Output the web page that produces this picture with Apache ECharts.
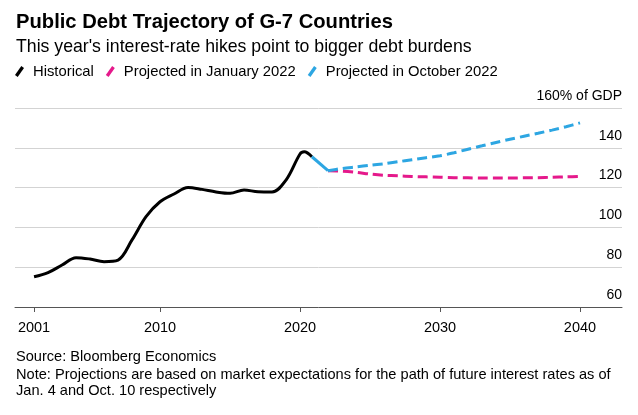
<!DOCTYPE html>
<html><head><meta charset="utf-8">
<script src="https://cdn.jsdelivr.net/npm/echarts@6/dist/echarts.min.js"></script>
<style>html,body{margin:0;padding:0;background:#fff}#c{width:638px;height:415px}</style>
</head><body><div id="c"></div>
<script>
const histYears = [2001,2002,2003,2004,2005,2006,2007,2008,2009,2010,2011,2012,2013,2014,2015,2016,2017,2018,2019,2020,2020.3,2020.85];
const histValues = [75.2,77.3,81.1,84.8,84.1,82.8,83.6,93.7,105.4,112.9,116.8,120.1,119.1,117.8,117.1,118.8,117.9,117.8,123.8,136.9,138,135.5];
const octSolidYears = [2020.85,2022];
const octSolidValues = [135.5,128.5];
const projYears = [2022,2023,2024,2025,2026,2027,2028,2029,2030,2031,2032,2033,2034,2035,2036,2037,2038,2039,2040];
const janValues = [128.5,128.3,127.7,126.8,126.2,125.9,125.6,125.4,125.2,125.0,124.9,124.8,124.8,124.8,124.9,125.0,125.2,125.4,125.6];
const octValues = [128.5,129.6,130.4,131.2,132.0,133.0,134.0,135.0,136.0,137.5,139.3,141.0,142.7,144.3,145.8,147.3,148.9,150.6,152.5];
const xTicks = [2001,2010,2020,2030,2040];
const yTicks = [60,80,100,120,140,160];

const zip = (xs, ys) => xs.map((x, i) => [x, ys[i]]);
const FONT = '"Liberation Sans", Arial, sans-serif';
const BLACK = '#000000', PINK = '#e5198b', BLUE = '#2da6e2';
const slash = 'path://M7,0 L10,2 L3,12 L0,10 Z';

const chart = echarts.init(document.getElementById('c'), null, {renderer: 'canvas'});
chart.setOption({
  animation: false,
  backgroundColor: '#ffffff',
  title: [
    {text: 'Public Debt Trajectory of G-7 Countries', left: 11, top: 10, padding: [0, 5],
     textStyle: {fontFamily: FONT, fontSize: 20.2, lineHeight: 24, fontWeight: 'bold', color: '#000'}},
    {text: "This year's interest-rate hikes point to bigger debt burdens", left: 11, top: 36.5, padding: [0, 5],
     textStyle: {fontFamily: FONT, fontSize: 17.7, lineHeight: 21, fontWeight: 'normal', color: '#000'}},
    {text: 'Source: Bloomberg Economics', left: 11, top: 348.5, padding: [0, 5],
     textStyle: {fontFamily: FONT, fontSize: 14.6, lineHeight: 17, fontWeight: 'normal', color: '#000'}},
    {text: 'Note: Projections are based on market expectations for the path of future interest rates as of\nJan. 4 and Oct. 10 respectively', left: 11, top: 366.5, padding: [0, 5],
     textStyle: {fontFamily: FONT, fontSize: 14.6, fontWeight: 'normal', color: '#000', lineHeight: 16}}
  ],
  legend: {
    left: 15, top: 62.5, padding: 0, itemGap: 12, itemWidth: 9, itemHeight: 12,
    data: [
      {name: 'Historical', icon: slash, itemStyle: {color: BLACK}},
      {name: 'Projected in January 2022', icon: slash, itemStyle: {color: PINK}},
      {name: 'Projected in October 2022', icon: slash, itemStyle: {color: BLUE}}
    ],
    lineStyle: {width: 0},
    itemStyle: {borderWidth: 0},
    textStyle: {fontFamily: FONT, fontSize: 14.8, lineHeight: 18, color: '#000', padding: [0, 0, 0, 4]}
  },
  grid: {left: 15, right: 16, top: 108, bottom: 108, containLabel: false},
  xAxis: {
    type: 'value', min: 1999.64, max: 2043,
    axisLine: {show: true, lineStyle: {color: '#555', width: 1}},
    axisTick: {show: true, customValues: xTicks, length: 5, lineStyle: {color: '#555'}},
    axisLabel: {customValues: xTicks, margin: 13, fontFamily: FONT, fontSize: 14.5, color: '#000',
      formatter: v => String(v)},
    splitLine: {show: false}
  },
  yAxis: {
    type: 'value', min: 60, max: 160, interval: 20, position: 'right',
    axisLine: {show: false}, axisTick: {show: false},
    axisLabel: {inside: true, margin: 0, fontFamily: FONT, fontSize: 14, color: '#000',
      verticalAlign: 'bottom', padding: [0, 0, 5, 0],
      formatter: v => v === 160 ? '160% of GDP' : String(v)},
    splitLine: {show: true, lineStyle: {color: '#d3d3d3', width: 1}}
  },
  series: [
    {name: 'Historical', type: 'line', data: zip(histYears, histValues), smooth: 0.35,
     showSymbol: false, lineStyle: {color: BLACK, width: 3}, itemStyle: {color: BLACK}, z: 3},
    {name: 'Projected in October 2022', type: 'line', data: zip(octSolidYears, octSolidValues),
     showSymbol: false, lineStyle: {color: BLUE, width: 3}, itemStyle: {color: BLUE}, z: 3},
    {name: 'Projected in January 2022', type: 'line', data: zip(projYears, janValues), smooth: 0.3,
     showSymbol: false, lineStyle: {color: PINK, width: 3, type: [10, 5]}, itemStyle: {color: PINK}, z: 2},
    {name: 'Projected in October 2022', type: 'line', data: zip(projYears, octValues), smooth: 0.3,
     showSymbol: false, lineStyle: {color: BLUE, width: 3, type: [10, 5]}, itemStyle: {color: BLUE}, z: 3}
  ]
});
</script></body></html>
